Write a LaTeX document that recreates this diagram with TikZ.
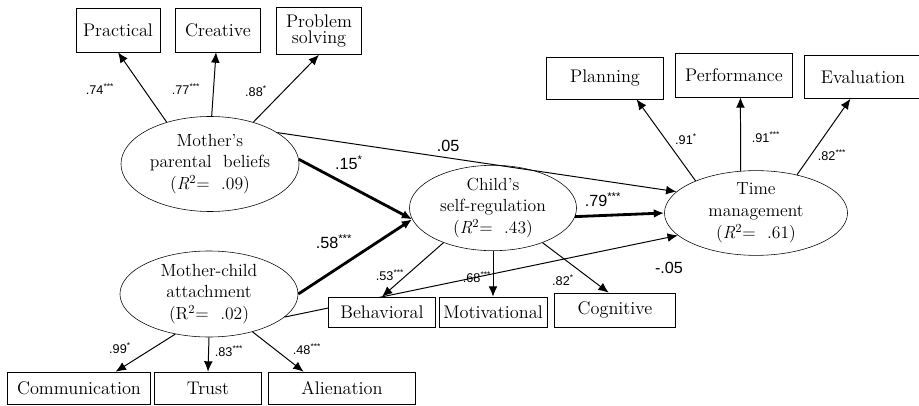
\documentclass[tikz,border=0pt]{standalone}
\usepackage{fontspec}
\newfontfamily\coeffont{Liberation Sans}
\usepackage{tikz}
\usetikzlibrary{shapes,arrows.meta,backgrounds}
\tikzset{lat/.style={ellipse,draw,inner sep=0pt,align=center,font=\fontsize{12.5}{15.5}\selectfont},
  obs/.style={rectangle,draw,fill=white,inner sep=0pt,align=center,font=\fontsize{13}{12}\selectfont},
  coef/.style={inner sep=0pt,font=\coeffont\fontsize{9}{10}\selectfont},
  pathcoef/.style={inner sep=0pt,font=\coeffont\fontsize{11.5}{12}\selectfont},
  thin/.style={->,line width=0.7pt},
  thick/.style={->,line width=2pt}}

\begin{document}
\begin{tikzpicture}[x=0.025cm,y=-0.025cm,>={Latex[length=2.6mm,width=2.2mm]}]
    \useasboundingbox (0,0) rectangle (919,406);
    % latent variables
    \node[lat,minimum width=4.45cm,minimum height=2.375cm] (mpb) at (210,164) {Mother's\\parental~ beliefs\\(\textit{R}\textsuperscript{2}=~ .09)};
    \node[lat,minimum width=4.45cm,minimum height=2.15cm] (mca) at (209,294) {Mother-child\\attachment\\(R\textsuperscript{2}=~ .02)};
    \node[lat,minimum width=4.175cm,minimum height=1.825cm] (csr) at (493,208) {Child's\\self-regulation\\(\textit{R}\textsuperscript{2}=~ .43)};
    \node[lat,minimum width=4.575cm,minimum height=2.1cm] (tm) at (756,213) {Time\\management\\(\textit{R}\textsuperscript{2}=~ .61)};

    % indicators
    \node[obs,minimum width=2.1cm,minimum height=1.1cm] (pra) at (118,30) {Practical};
    \node[obs,minimum width=2.125cm,minimum height=1.1cm] (cre) at (218,30) {Creative};
    \node[obs,minimum width=2.125cm,minimum height=1.175cm] (pso) at (319,31) {Problem\\solving};
    \node[obs,minimum width=2.925cm,minimum height=1.05cm] (pla) at (605,78) {Planning};
    \node[obs,minimum width=2.925cm,minimum height=1.1cm] (per) at (734,75) {Performance};
    \node[obs,minimum width=2.95cm,minimum height=1.075cm] (eva) at (863,77) {Evaluation};
    \node[obs,minimum width=2.675cm,minimum height=0.75cm] (beh) at (382,312) {Behavioral};
    \node[obs,minimum width=2.7cm,minimum height=0.75cm] (mot) at (493,312) {Motivational};
    \node[obs,minimum width=3.025cm,minimum height=0.85cm] (cog) at (615,310) {Cognitive};
    \node[obs,minimum width=3.575cm,minimum height=0.8cm] (com) at (79,388) {Communication};
    \node[obs,minimum width=2.675cm,minimum height=0.8cm] (tru) at (208,388) {Trust};
    \node[obs,minimum width=3.675cm,minimum height=0.8cm] (ali) at (342,388) {Alienation};

    % measurement paths
    \draw [thin] (mpb.136) to (pra.south);
    \draw [thin] (mpb.88) to (cre.265);
    \draw [thin] (mpb.44) to (pso.south);
    \draw [thin] (tm.152) to (pla.-34);
    \draw [thin] (tm.110) to (per.-74);
    \draw [thin] (tm.43) to (eva.-120);
    \draw [thin] (csr.215) to (beh.north);
    \draw [thin] (csr.south) to (mot.north);
    \draw [thin] (csr.-35) to (cog.110);
    \draw [thin] (mca.230) to (com.24);
    \draw [thin] (mca.south) to (tru.north);
    \draw [thin] (mca.-41) to (ali.157);

    % structural paths
    \draw [thin] (mpb.25) to (tm.165);
    \draw [thick] (mpb.3) to (csr.188);
    \draw [thick] (mca.east) to (csr.188);
    \draw [thick] (csr.-6) to (tm.west);
    \begin{scope}[on background layer]
    \draw [thin] (mca.-17) to (tm.196);
    \end{scope}

    % coefficients
    \node[coef] (c74) at (100,89) {.74\textsuperscript{***}};
    \node[coef] (c77) at (186,89) {.77\textsuperscript{***}};
    \node[coef] (c88) at (256,91) {.88\textsuperscript{*}};
    \node[coef] (c91a) at (686,139) {.91\textsuperscript{*}};
    \node[coef] (c91b) at (766,137) {.91\textsuperscript{***}};
    \node[coef] (c82a) at (832,155) {.82\textsuperscript{***}};
    \node[coef] (c53) at (390,275) {.53\textsuperscript{***}};
    \node[coef] (c68) at (477,277) {.68\textsuperscript{***}};
    \node[coef] (c82b) at (563,280) {.82\textsuperscript{*}};
    \node[coef] (c99) at (120,348) {.99\textsuperscript{*}};
    \node[coef] (c83) at (229,351) {.83\textsuperscript{***}};
    \node[coef] (c48) at (307,349) {.48\textsuperscript{***}};
    \node[pathcoef] (p05) at (448,146) {.05};
    \node[pathcoef] (p15) at (349,163) {.15\textsuperscript{*}};
    \node[pathcoef] (p58) at (334,242) {.58\textsuperscript{***}};
    \node[pathcoef] (p79) at (603,200) {.79\textsuperscript{***}};
    \node[pathcoef] (pm05) at (669,268) {-.05};
\end{tikzpicture}
\end{document}
